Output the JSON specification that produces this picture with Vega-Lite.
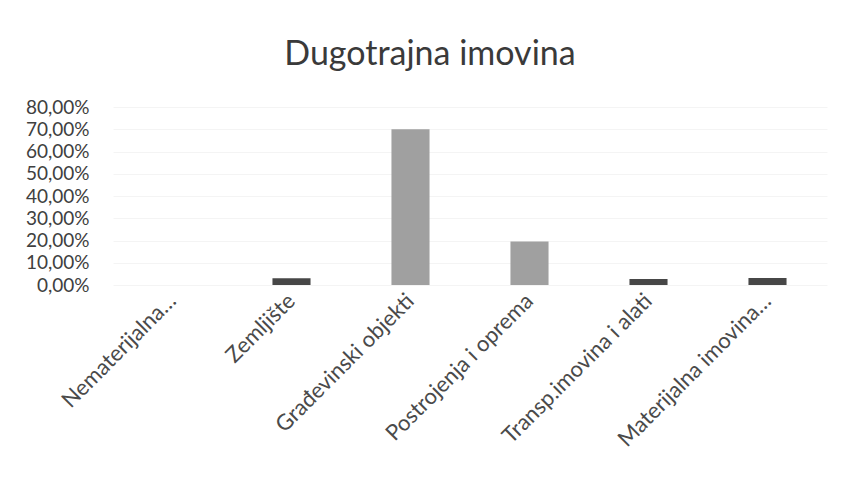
{
  "$schema": "https://vega.github.io/schema/vega-lite/v6.json",
  "width": 714,
  "height": 178,
  "autosize": {"type": "none"},
  "padding": {"left": 113, "top": 107, "right": 16, "bottom": 197},
  "background": "white",
  "config": {
    "locale": {"number": {"decimal": ",", "thousands": ".", "grouping": [3], "currency": ["", " kn"]}},
    "view": {"stroke": null},
    "font": "Lato"
  },
  "title": {
    "text": "Dugotrajna imovina",
    "fontSize": 34,
    "fontWeight": "normal",
    "color": "#3a3a3a",
    "font": "Lato",
    "anchor": "middle",
    "dx": -40,
    "offset": 26
  },
  "data": {
    "values": [
      {"kategorija": "Nematerijalna…", "udio": 0.0},
      {"kategorija": "Zemljište", "udio": 0.03},
      {"kategorija": "Građevinski objekti", "udio": 0.70},
      {"kategorija": "Postrojenja i oprema", "udio": 0.195},
      {"kategorija": "Transp.imovina i alati", "udio": 0.027},
      {"kategorija": "Materijalna imovina…", "udio": 0.032}
    ]
  },
  "mark": {"type": "bar"},
  "encoding": {
    "x": {
      "field": "kategorija",
      "type": "nominal",
      "sort": null,
      "scale": {"paddingInner": 0.68, "paddingOuter": 0.34},
      "axis": {
        "title": null,
        "labelAngle": -45,
        "labelAlign": "right",
        "labelBaseline": "middle",
        "labelFontSize": 22,
        "labelColor": "#4a4a4a",
        "labelPadding": 12,
        "labelLimit": 300,
        "labelOverlap": false,
        "ticks": false,
        "domain": false
      }
    },
    "y": {
      "field": "udio",
      "type": "quantitative",
      "scale": {"domain": [0, 0.8]},
      "axis": {
        "title": null,
        "format": ".2%",
        "values": [0, 0.1, 0.2, 0.3, 0.4, 0.5, 0.6, 0.7, 0.8],
        "labelOverlap": false,
        "labelFontSize": 19,
        "labelColor": "#404040",
        "labelPadding": 24,
        "ticks": false,
        "domain": false,
        "grid": true,
        "gridColor": "#f4f4f4"
      }
    },
    "color": {
      "condition": {"test": "datum.udio < 0.05", "value": "#474747"},
      "value": "#a0a0a0"
    }
  }
}
